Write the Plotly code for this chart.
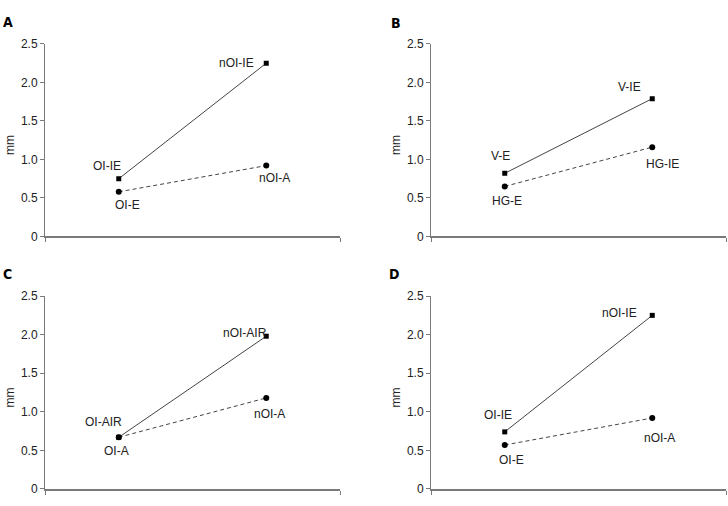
import plotly.graph_objects as go

# Data
x_pos = [1, 3]
panels = ["A", "B", "C", "D"]
solid_values = {
    "A": [0.75, 2.25],
    "B": [0.82, 1.79],
    "C": [0.67, 1.98],
    "D": [0.74, 2.25],
}
dashed_values = {
    "A": [0.58, 0.92],
    "B": [0.65, 1.16],
    "C": [0.67, 1.18],
    "D": [0.57, 0.92],
}
solid_labels = {
    "A": ["OI-IE", "nOI-IE"],
    "B": ["V-E", "V-IE"],
    "C": ["OI-AIR", "nOI-AIR"],
    "D": ["OI-IE", "nOI-IE"],
}
dashed_labels = {
    "A": ["OI-E", "nOI-A"],
    "B": ["HG-E", "HG-IE"],
    "C": ["OI-A", "nOI-A"],
    "D": ["OI-E", "nOI-A"],
}
y_ticks = [0, 0.5, 1.0, 1.5, 2.0, 2.5]
y_ticktext = ["0", "0.5", "1.0", "1.5", "2.0", "2.5"]

# Label offsets (pixels) for each label: (xshift, yshift)
solid_offsets = {
    "A": [(-12, 13), (-30, 0)],
    "B": [(-4, 17), (-23, 12)],
    "C": [(-15, 15), (-21, 3)],
    "D": [(-7, 17), (-33, 2)],
}
dashed_offsets = {
    "A": [(9, -13), (8, -12)],
    "B": [(2, -15), (10, -17)],
    "C": [(-2, -14), (3, -16)],
    "D": [(7, -15), (7, -20)],
}

x_domains = {"A": [45/728, 340/728], "B": [431/728, 726/728],
             "C": [45/728, 340/728], "D": [431/728, 726/728]}
y_domains = {"A": [1-236/506, 1-38/506], "B": [1-236/506, 1-38/506],
             "C": [1-495.7/506, 1-297.3/506], "D": [1-495.7/506, 1-297.3/506]}
letter_pos = {"A": (1/728, 1-15/506), "B": (389/728, 1-16/506),
              "C": (1/728, 1-275/506), "D": (387/728, 1-275/506)}

fig = go.Figure()
axis_color = "#7a7a7a"
line_color = "#444444"
font = dict(family="Liberation Sans, Arial, sans-serif", size=12, color="#222222")

annotations = []
for i, p in enumerate(panels):
    sfx = "" if i == 0 else str(i + 1)
    xa, ya = "x" + sfx, "y" + sfx
    fig.add_trace(go.Scatter(x=x_pos, y=dashed_values[p], mode="lines+markers",
                             line=dict(color=line_color, width=1, dash="4px,3px"),
                             marker=dict(symbol="circle", size=6, color="black"),
                             xaxis=xa, yaxis=ya, showlegend=False, hoverinfo="skip"))
    fig.add_trace(go.Scatter(x=x_pos, y=solid_values[p], mode="lines+markers",
                             line=dict(color=line_color, width=1),
                             marker=dict(symbol="square", size=5, color="black"),
                             xaxis=xa, yaxis=ya, showlegend=False, hoverinfo="skip"))
    for j in range(2):
        for lbls, vals, offs in ((solid_labels, solid_values, solid_offsets),
                                 (dashed_labels, dashed_values, dashed_offsets)):
            annotations.append(dict(x=x_pos[j], y=vals[p][j], xref=xa, yref=ya,
                                    text=lbls[p][j], showarrow=False,
                                    xshift=offs[p][j][0], yshift=offs[p][j][1],
                                    font=font))
    annotations.append(dict(x=letter_pos[p][0], y=letter_pos[p][1], xref="paper", yref="paper",
                            text="<b>" + p + "</b>", showarrow=False, xanchor="left",
                            yanchor="middle",
                            font=dict(family="DejaVu Sans Condensed, DejaVu Sans, sans-serif",
                                      size=14, color="black")))
    annotations.append(dict(x=x_domains[p][0] - 35/728,
                            y=(y_domains[p][0] + y_domains[p][1]) / 2 - 5/506,
                            xref="paper", yref="paper", text="mm", textangle=-90,
                            xanchor="center", yanchor="middle",
                            showarrow=False, font=font))
    fig.layout["xaxis" + sfx] = dict(domain=x_domains[p], range=[0, 4], showline=True,
                                     linecolor=axis_color, linewidth=1.5,
                                     tickvals=[0, 4], ticks="outside", ticklen=4,
                                     tickcolor=axis_color, showticklabels=False,
                                     showgrid=False, zeroline=False, anchor=ya, fixedrange=True)
    fig.layout["yaxis" + sfx] = dict(domain=y_domains[p], range=[0, 2.5], showline=True,
                                     linecolor=axis_color, linewidth=1,
                                     tickvals=y_ticks, ticktext=y_ticktext,
                                     ticks="outside", ticklen=4, tickcolor=axis_color,
                                     tickfont=font, showgrid=False, zeroline=False,
                                     anchor=xa, fixedrange=True)

fig.update_layout(width=728, height=506, margin=dict(l=0, r=0, t=0, b=0),
                  plot_bgcolor="white", paper_bgcolor="white",
                  annotations=annotations)
fig.write_html("out.html")
